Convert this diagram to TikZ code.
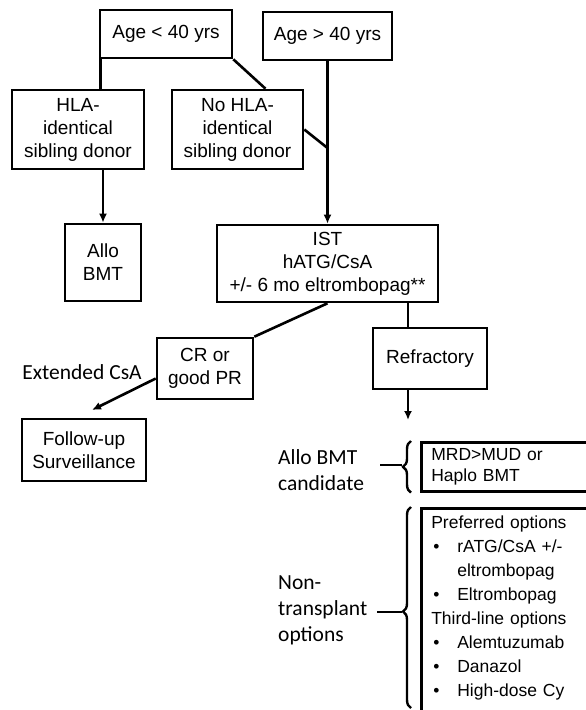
\documentclass[tikz,border=0pt]{standalone}
\usepackage{fontspec}
\setmainfont{Liberation Sans}
\newfontfamily\sidefont{Carlito}
\usetikzlibrary{arrows.meta,calc,decorations.pathreplacing}

\newcommand{\optitem}[1]{\hspace*{2pt}\makebox[24pt][l]{\textbullet}#1}

\begin{document}
\begin{tikzpicture}[x=1pt,y=1pt,
		box/.style={draw, line width=2.6pt, align=center, inner sep=2pt, font=\fontsize{19}{23}\selectfont},
		side/.style={align=left, inner sep=0pt, font=\sidefont\fontsize{21.5}{26}\selectfont},
		link/.style={line width=2.6pt},
		curly/.style={line width=2.4pt, decorate, decoration={brace, amplitude=8pt, aspect=#1}},
		curly/.default=0.5]
		\useasboundingbox (0,0) rectangle (586,-710);
		\clip (0,0) rectangle (586,-710);
		% top of the tree
		\node[box, minimum width=132pt, minimum height=48pt] (young) at (166,-34) {Age < 40 yrs};
		\node[box, minimum width=129pt, minimum height=48pt] (old) at (327.5,-36) {Age > 40 yrs};
		\node[box, minimum width=132pt, minimum height=79pt] (sib) at (78,-129.5) {HLA-\\identical\\sibling donor};
		\node[box, minimum width=131pt, minimum height=79pt] (nosib) at (237.5,-129.5) {No HLA-\\identical\\sibling donor};
		\node[box, minimum width=76pt, minimum height=77pt] (allo) at (103,-262.5) {Allo\\BMT};
		\node[box, minimum width=221pt, minimum height=77pt] (ist) at (327.5,-263.5) {IST\\hATG/CsA\\+/- 6 mo eltrombopag**};
		\node[box, minimum width=96pt, minimum height=61pt] (resp) at (205,-368.5) {CR or\\good PR};
		\node[box, minimum width=114pt, minimum height=61pt] (refr) at (430,-358.5) {Refractory};
		\node[box, minimum width=124pt, minimum height=62pt] (follow) at (84,-450) {Follow-up\\Surveillance};
		\node[side, anchor=center] (ext) at (82,-372) {Extended CsA};
		% after refractory
		\node[box, anchor=north west, text width=160pt, inner xsep=10pt, minimum height=49pt, align=left,
			font=\fontsize{17.5}{21}\selectfont] (mrd) at (420,-441) {MRD>MUD or\\Haplo BMT};
		\node[box, anchor=north west, text width=160pt, inner xsep=10pt, inner ysep=8pt, align=left,
			font=\fontsize{17.5}{24}\selectfont] (opts) at (420,-507)
			{Preferred options\\
			\optitem{rATG/CsA +/-}\\
			\hspace*{26pt}eltrombopag\\
			\optitem{Eltrombopag}\\
			Third-line options\\
			\optitem{Alemtuzumab}\\
			\optitem{Danazol}\\
			\optitem{High-dose Cy}\\
			\mbox{}};
		\node[side, anchor=west] (candlbl) at (278,-470) {Allo BMT\\candidate};
		\node[side, anchor=west] (nonlbl) at (278,-610) {Non-\\transplant\\options};
		\coordinate (join) at (327.5,-148);
		\coordinate (drop) at (408,-420);
		\coordinate (fup) at (92,-410);
		\coordinate (tipA) at (402,-465);
		\coordinate (tipB) at (402,-612);
		\path[link]
		([xshift=2pt]young.south west) edge ([xshift=2pt]young.south west |- sib.north)
		(young.south east) edge ([xshift=28pt]nosib.north)
		(nosib.east) edge (join)
		(ist.south) edge (resp.north east)
		(ist.south -| drop) edge (refr.north -| drop)
		(candlbl.east |- tipA) edge[shorten <=16pt] (tipA)
		(nonlbl.east |- tipB) edge[shorten <=10pt] (tipB)
		;
		\path[link,-{Latex[length=9pt,width=8pt]}]
		(old) edge (ist)
		(sib.south -| allo.north) edge (allo.north)
		([yshift=-10pt]resp.west) edge (fup)
		(refr.south -| drop) edge (drop)
		;
		\draw[curly] ([xshift=-9pt]mrd.south west) -- ([xshift=-9pt]mrd.north west);
		\draw[curly=0.48] (411,-708) -- ([xshift=-9pt]opts.north west);
\end{tikzpicture}
\end{document}
